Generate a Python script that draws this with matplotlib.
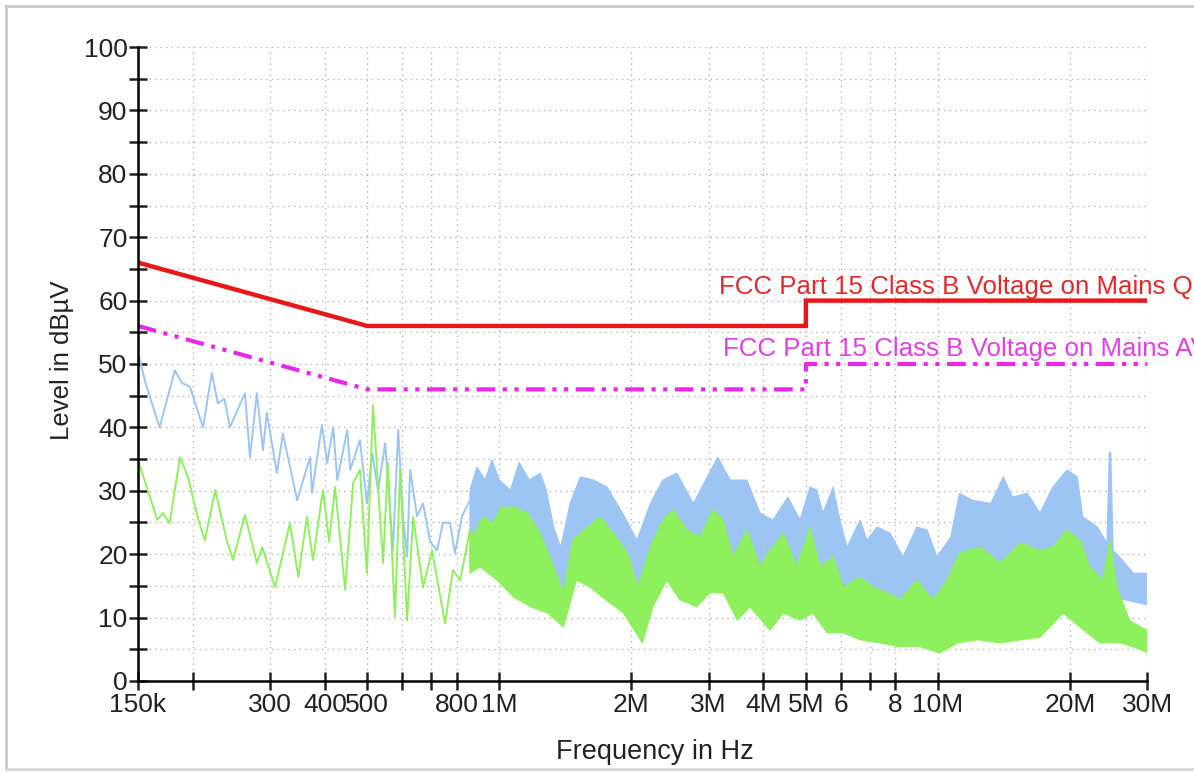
import matplotlib
matplotlib.use('Agg')
import matplotlib.pyplot as plt
from matplotlib.lines import Line2D

plt.rcParams['font.family'] = ['Liberation Sans', 'DejaVu Sans']

# frequencies in MHz, levels in dBuV

# limit lines
qp_freq = [0.15, 0.5, 5.0, 5.0, 30.0]
qp_level = [66, 56, 56, 60, 60]
av_freq = [0.15, 0.5, 5.0, 5.0, 30.0]
av_level = [56, 46, 46, 50, 50]

# low band, single traces
blue_lo_freq = [0.150, 0.156, 0.168, 0.182, 0.189, 0.197, 0.211, 0.221, 0.228, 0.236,
                0.243, 0.263, 0.270, 0.280, 0.289, 0.295, 0.311, 0.321, 0.346, 0.370,
                0.374, 0.394, 0.405, 0.418, 0.427, 0.450, 0.457, 0.481, 0.499, 0.513,
                0.529, 0.549, 0.572, 0.588, 0.603, 0.616, 0.626, 0.649, 0.670, 0.695,
                0.721, 0.744, 0.772, 0.792, 0.822, 0.857]
blue_lo_level = [51.9, 47, 40, 49, 47, 46.4, 40, 48.6, 43.8, 44.5,
                 40, 45.4, 35.3, 45.4, 36.4, 42.3, 32.8, 39, 28.5, 35.3,
                 29.7, 40.4, 34.4, 40, 31.7, 39.6, 33.3, 38, 28, 36,
                 30, 37.5, 20.6, 39.6, 26, 19.6, 33.3, 26, 28, 22,
                 20.6, 25, 24.9, 20.2, 26, 28.5]

green_lo_freq = [0.150, 0.156, 0.166, 0.171, 0.177, 0.187, 0.195, 0.205, 0.213, 0.225,
                 0.239, 0.247, 0.263, 0.280, 0.288, 0.308, 0.333, 0.348, 0.364, 0.376,
                 0.396, 0.409, 0.422, 0.445, 0.464, 0.481, 0.499, 0.515, 0.543, 0.557,
                 0.578, 0.594, 0.616, 0.636, 0.670, 0.702, 0.752, 0.784, 0.814, 0.857]
green_lo_level = [34.8, 31.2, 25.4, 26.5, 24.9, 35.3, 32.2, 25.9, 22.2, 30.1,
                  22.2, 19.1, 26.2, 18.6, 21.1, 14.8, 24.9, 16.4, 25.9, 19.1,
                  30.1, 22, 30.6, 14.4, 31.2, 33.3, 17, 43.5, 18.6, 34.4,
                  10.1, 33.3, 9.6, 25.9, 14.8, 20.6, 9.1, 17.5, 15.9, 23.8]

# high band, dense traces as upper / lower envelope
blue_top_freq = [0.857, 0.889, 0.928, 0.962, 1.00, 1.06, 1.11, 1.17, 1.24, 1.28,
                 1.33, 1.38, 1.45, 1.53, 1.64, 1.76, 1.91, 2.06, 2.21, 2.36,
                 2.54, 2.77, 2.98, 3.15, 3.36, 3.67, 3.93, 4.21, 4.55, 4.85,
                 5.11, 5.30, 5.47, 5.77, 5.98, 6.21, 6.65, 6.89, 7.27, 7.78,
                 8.33, 8.96, 9.45, 9.96, 10.7, 11.2, 12.0, 13.2, 14.1, 14.8,
                 16.0, 17.1, 18.3, 19.7, 20.8, 21.4, 23.1, 24.3, 24.6, 24.8,
                 25.1, 26.4, 27.9, 30.0]
blue_top_level = [30.1, 33.8, 31.7, 34.9, 31.7, 30.1, 34.5, 31.7, 32.8, 30.1,
                  24.3, 21.1, 28, 32.2, 31.7, 30.6, 26.5, 22.2, 28, 31.7,
                  32.8, 28, 32.2, 35.3, 31.7, 31.7, 26.5, 25.4, 29, 25.4,
                  30.6, 30.1, 26.5, 30.6, 25.4, 21.1, 25.4, 22.2, 24.3, 23.3,
                  19.6, 24.3, 23.8, 19.6, 22.7, 29.6, 28.5, 28, 32.2, 29,
                  29.6, 26.5, 30.6, 33.3, 32.2, 25.9, 24.3, 21.8, 36, 36,
                  20.6, 19, 17, 17]
# blue floor sits under the green band; it shows only near 30 MHz
blue_bot_freq = [0.857, 0.904, 0.988, 1.08, 1.18, 1.29, 1.40, 1.50, 1.61, 1.72,
                 1.92, 2.12, 2.24, 2.41, 2.58, 2.82, 3.02, 3.24, 3.49, 3.73,
                 4.14, 4.44, 4.85, 5.19, 5.59, 6.08, 6.65, 7.38, 8.20, 9.11,
                 10.1, 11.1, 12.3, 13.9, 15.4, 17.1, 19.3, 21.1, 23.4, 26.0,
                 27.9, 30.0]
blue_bot_level = [18, 19, 17, 15, 13, 12, 10, 17, 16, 15,
                  12, 8, 13, 17, 14, 13, 15, 15, 11, 13,
                  10, 12, 11, 12, 9, 9, 8, 8, 7, 7,
                  6, 8, 8, 8, 8, 9, 12, 10, 9, 13,
                  12.5, 12]

green_top_freq = [0.857, 0.871, 0.918, 0.967, 1.01, 1.08, 1.16, 1.24, 1.33, 1.40,
                  1.47, 1.59, 1.70, 1.82, 1.96, 2.07, 2.21, 2.36, 2.49, 2.68,
                  2.87, 3.07, 3.24, 3.41, 3.67, 3.93, 4.14, 4.44, 4.77, 5.11,
                  5.39, 5.77, 6.08, 6.65, 7.11, 7.66, 8.20, 8.96, 9.75, 10.5,
                  11.2, 12.5, 13.9, 15.4, 17.1, 18.3, 19.7, 21.1, 22.2, 23.8,
                  24.7, 25.6, 27.4, 30.0]
green_top_level = [23.8, 22.7, 25.9, 24.9, 27.4, 27.4, 26.5, 23.3, 18, 13.9,
                   22.2, 24.3, 25.9, 23.3, 20.2, 14.8, 21.1, 25.4, 27, 23.8,
                   22.7, 27, 25.4, 19.6, 23.8, 18, 20.6, 23.3, 18, 24.3,
                   18, 19.6, 14.8, 16.4, 14.8, 13.9, 12.8, 15.9, 12.8, 15.9,
                   20.2, 21.1, 18.6, 21.8, 20.6, 21.1, 23.8, 22.2, 18, 15.9,
                   22.2, 14.8, 9.5, 8]
green_bot_freq = [0.857, 0.904, 0.988, 1.08, 1.18, 1.29, 1.40, 1.50, 1.61, 1.72,
                  1.92, 2.12, 2.24, 2.41, 2.58, 2.82, 3.02, 3.24, 3.49, 3.73,
                  4.14, 4.44, 4.85, 5.19, 5.59, 6.08, 6.65, 7.38, 8.20, 9.11,
                  10.1, 11.1, 12.3, 13.9, 15.4, 17.1, 19.3, 21.1, 23.4, 26.0,
                  27.9, 30.0]
green_bot_level = [17, 18, 15.9, 13.2, 11.7, 10.7, 8.5, 15.9, 14.8, 13.2,
                   10.7, 6, 11.7, 15.9, 12.8, 11.7, 13.9, 13.9, 9.6, 11.7,
                   8, 10.7, 9.6, 10.7, 7.6, 7.6, 6.5, 6, 5.4, 5.4,
                   4.4, 6, 6.5, 6, 6.5, 6.9, 10.7, 8.5, 6, 6,
                   5.4, 4.5]

x_ticks = [0.15, 0.2, 0.3, 0.4, 0.5, 0.6, 0.7, 0.8, 1, 2, 3, 4, 5, 6, 7, 8, 10, 20, 30]
x_labels = ['150k', '', '300', '400', '500', '', '', '800', '1M', '2M', '3M', '4M',
            '5M', '6', '', '8', '10M', '20M', '30M']

qp_text = "FCC Part 15 Class B Voltage on Mains QP"
av_text = "FCC Part 15 Class B Voltage on Mains AV"

BLUE = '#9cc5f3'
GREEN = '#8ef05c'
RED = '#e81818'
MAGENTA = '#e82ae8'

fig = plt.figure(figsize=(11.94, 7.72), dpi=100)
ax = fig.add_axes([0.1156, 0.1179, 0.8451, 0.8212])

# blue (drawn first, green on top)
ax.plot(blue_lo_freq, blue_lo_level, color=BLUE, lw=1.4, zorder=3)
ax.fill(blue_top_freq + blue_bot_freq[::-1], blue_top_level + blue_bot_level[::-1],
        facecolor=BLUE, edgecolor=BLUE, lw=0.8, zorder=3)

ax.plot(green_lo_freq, green_lo_level, color=GREEN, lw=1.4, zorder=4)
ax.fill(green_top_freq + green_bot_freq[::-1], green_top_level + green_bot_level[::-1],
        facecolor=GREEN, edgecolor=GREEN, lw=0.8, zorder=4)

# limits
ax.plot(qp_freq, qp_level, color=RED, lw=3.2, zorder=5, solid_joinstyle='miter')
ax.plot(av_freq, av_level, color=MAGENTA, lw=3.0, zorder=5,
        dashes=(4.5, 1.8, 1.0, 1.8, 1.0, 1.8), dash_capstyle='butt')

# labels run off the right edge, as in the original
ax.text(3.17, 62.2, qp_text, color='#e02a2a', fontsize=18.6, va='center', ha='left',
        clip_on=False, zorder=6)
ax.text(3.24, 52.4, av_text, color='#e040e0', fontsize=18.6, va='center', ha='left',
        clip_on=False, zorder=6)

ax.set_xscale('log')
ax.set_xlim(0.15, 30)
ax.set_ylim(0, 100)
ax.set_xticks(x_ticks)
ax.set_xticklabels(x_labels)
ax.xaxis.set_minor_locator(matplotlib.ticker.NullLocator())
ax.set_yticks(range(0, 101, 5))
ax.set_yticklabels([str(v) if v % 10 == 0 else '' for v in range(0, 101, 5)])

ax.grid(True, color='#b4b4b4', lw=1.0, dashes=(1, 3), zorder=0)
ax.set_axisbelow(True)

for side in ['top', 'right']:
    ax.spines[side].set_visible(False)
for side in ['left', 'bottom']:
    ax.spines[side].set_linewidth(1.8)
    ax.spines[side].set_zorder(7)

ax.tick_params(axis='both', direction='inout', length=13, width=1.8,
               labelsize=19, colors='#222222', pad=1)
ax.tick_params(axis='x', pad=2)

fig.text(655 / 1194, 1 - 752 / 772, 'Frequency in Hz', fontsize=19.5,
         color='#222222', ha='center', va='center')
fig.text(62 / 1194, 1 - 360 / 772, 'Level in dBµV', fontsize=18.5,
         color='#222222', ha='center', va='center', rotation=90)

# light frame round the picture
fig.add_artist(Line2D([6 / 1194, 1], [1 - 6 / 772, 1 - 6 / 772],
                      transform=fig.transFigure, color='#c8c8c8', lw=2))
fig.add_artist(Line2D([6 / 1194, 6 / 1194], [3 / 772, 1 - 6 / 772],
                      transform=fig.transFigure, color='#c8c8c8', lw=2))
fig.add_artist(Line2D([6 / 1194, 1], [3 / 772, 3 / 772],
                      transform=fig.transFigure, color='#d8d8d8', lw=2))

fig.savefig('out.png', dpi=100)
